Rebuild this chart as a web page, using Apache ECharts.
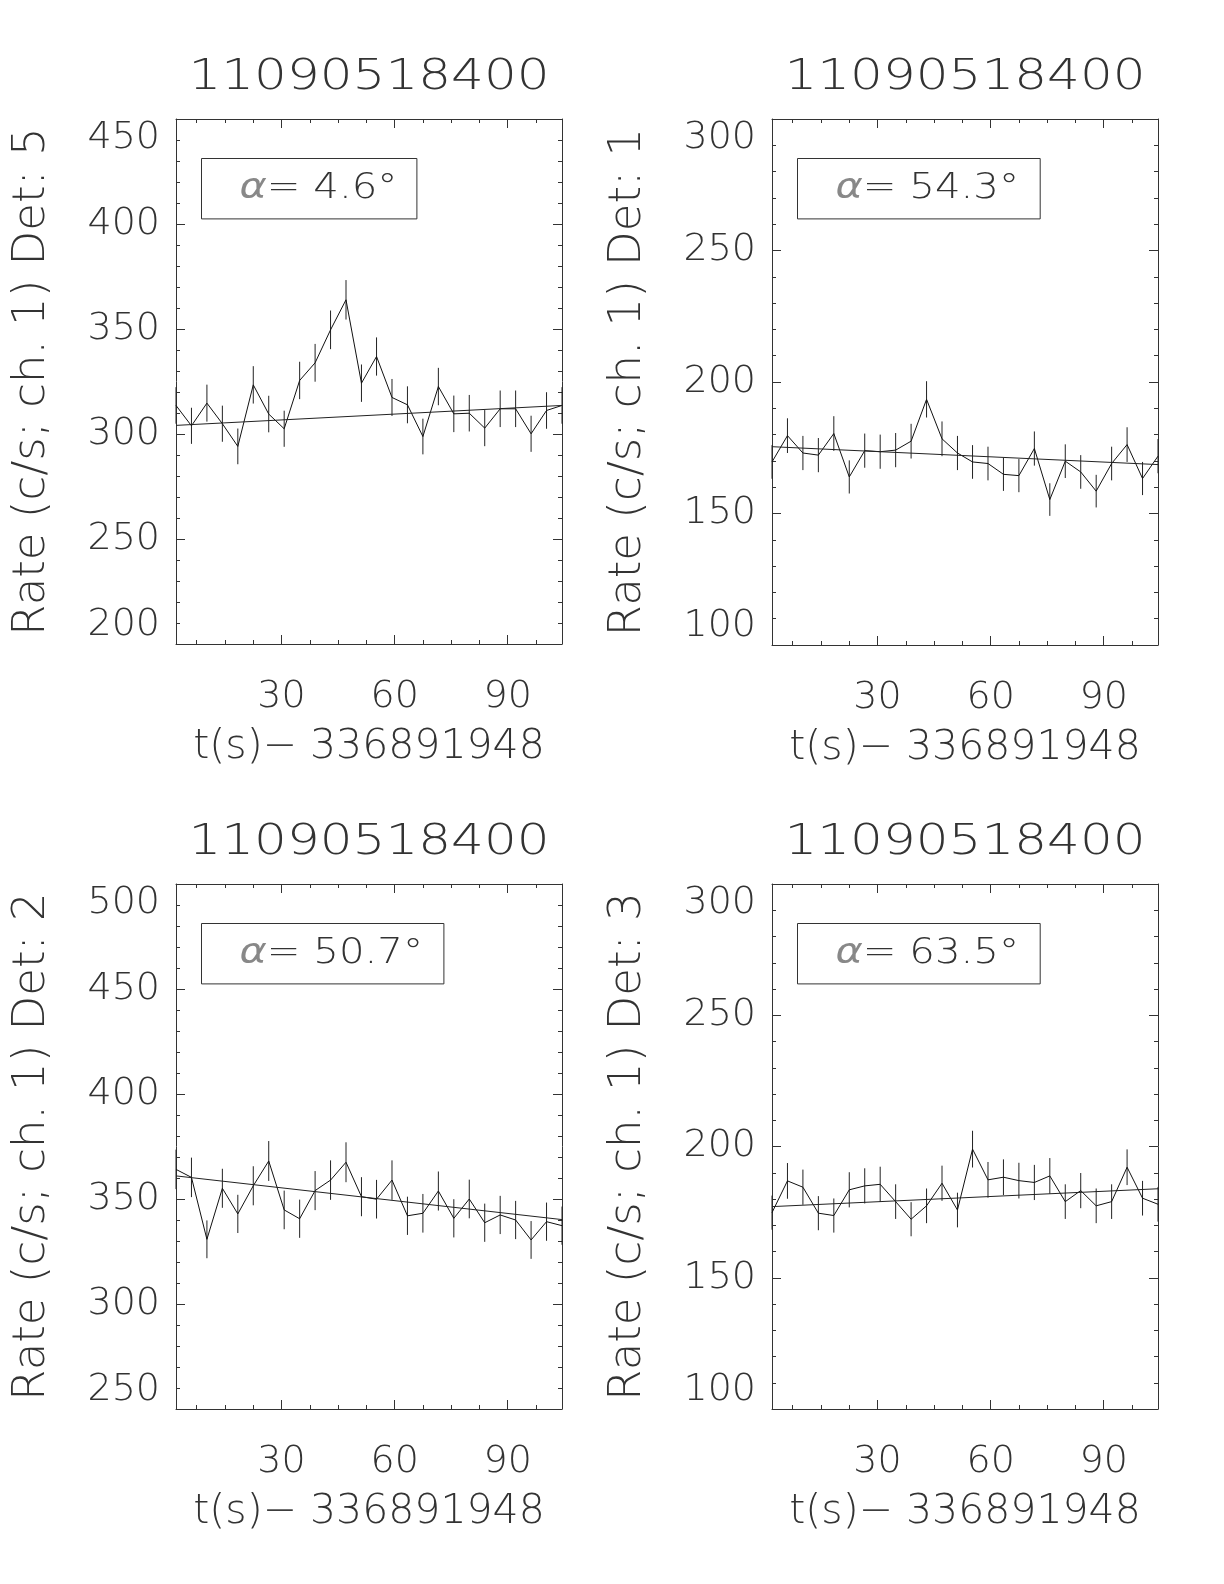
<!DOCTYPE html>
<html>
<head>
<meta charset="utf-8">
<script src="https://cdn.jsdelivr.net/npm/echarts@6/dist/echarts.min.js"></script>
<style>
html,body{margin:0;padding:0;background:#fff;}
#chart{width:1224px;height:1584px;}
</style>
</head>
<body>
<div id="chart"></div>
<script>
// ---------------- data ----------------
const times = [2.0, 6.1, 10.2, 14.3, 18.4, 22.5, 26.6, 30.7, 34.8, 38.9, 43.0, 47.1, 51.2,
               55.2, 59.3, 63.4, 67.5, 71.6, 75.7, 79.8, 83.9, 88.0, 92.1, 96.2, 100.3, 104.4];
const xMajorTicks = [30, 60, 90];
const xMinorTicks = [7.5, 15, 22.5, 37.5, 45, 52.5, 67.5, 75, 82.5, 97.5];

const titleText = '11090518400';
const xAxisTitle = 't(s)\u2212 336891948';

// Det 5
const rateDet5 = [313.6, 303.9, 314.7, 304.9, 294.1, 323.4, 309.5, 302.5, 325.5, 333.9, 349.6, 363.9, 324.2,
                  336.9, 317.4, 313.9, 298.8, 322.6, 309.6, 309.9, 302.8, 312.0, 312.0, 300.1, 311.2, 313.6];
const errDet5  = [8.7, 8.6, 8.8, 8.6, 8.5, 8.9, 8.7, 8.6, 8.9, 9.0, 9.2, 9.4, 8.9,
                  9.1, 8.8, 8.8, 8.5, 8.9, 8.7, 8.7, 8.6, 8.7, 8.7, 8.6, 8.7, 8.7];
const fitDet5  = [304.1, 313.6];

// Det 1
const rateDet1 = [169.6, 179.6, 173.0, 172.2, 180.4, 163.9, 173.9, 173.5, 174.1, 177.5, 193.4, 178.4, 173.0,
                  169.6, 169.0, 164.9, 164.4, 174.7, 155.3, 169.9, 165.8, 158.5, 169.0, 176.2, 163.3, 171.8];
const errDet1  = [6.4, 6.6, 6.5, 6.5, 6.6, 6.3, 6.5, 6.5, 6.5, 6.6, 6.9, 6.6, 6.5,
                  6.4, 6.4, 6.3, 6.3, 6.5, 6.2, 6.4, 6.4, 6.2, 6.4, 6.6, 6.3, 6.5];
const fitDet1  = [175.4, 168.6];

// Det 2
const rateDet2 = [364.1, 360.3, 330.8, 355.1, 342.9, 356.3, 368.1, 344.8, 340.6, 354.0, 359.0, 367.5, 351.1,
                  349.9, 359.0, 342.0, 343.2, 353.8, 340.8, 350.0, 338.7, 342.4, 340.0, 330.5, 339.2, 337.3];
const errDet2  = [9.4, 9.4, 9.0, 9.3, 9.1, 9.3, 9.5, 9.2, 9.1, 9.3, 9.4, 9.5, 9.3,
                  9.2, 9.4, 9.1, 9.2, 9.3, 9.1, 9.2, 9.1, 9.1, 9.1, 9.0, 9.1, 9.1];
const fitDet2  = [361.0, 340.2];

// Det 3
const rateDet3 = [174.8, 186.9, 184.5, 174.6, 173.7, 183.5, 185.0, 185.6, 179.0, 172.3, 177.4, 186.0, 175.8,
                  199.0, 187.3, 188.3, 187.0, 186.3, 188.8, 179.0, 183.2, 177.4, 179.0, 192.1, 180.3, 178.0];
const errDet3  = [6.5, 6.8, 6.7, 6.5, 6.5, 6.7, 6.7, 6.7, 6.6, 6.5, 6.6, 6.7, 6.6,
                  7.0, 6.8, 6.8, 6.8, 6.7, 6.8, 6.6, 6.7, 6.6, 6.6, 6.8, 6.6, 6.6];
const fitDet3  = [177.1, 183.9];

const detectors = ['5', '1', '2', '3'];
const alphas = ['4.6', '54.3', '50.7', '63.5'];
const yMins = [200, 100, 250, 100];
const yMaxs = [450, 300, 500, 300];
const yInterval = 50;

// ---------------- layout / style ----------------
const rates = [rateDet5, rateDet1, rateDet2, rateDet3];
const errs = [errDet5, errDet1, errDet2, errDet3];
const fits = [fitDet5, fitDet1, fitDet2, fitDet3];
const gridRects = [[176, 119, 386, 525], [772, 119, 386, 526], [176, 884, 386, 525], [772, 884, 386, 525]];
const boxWidths = [215.4, 242.7, 242.4, 242.7];

const FONT = '"DejaVu Sans", sans-serif';
const FW = 200;
const TXT = '#333';
const AX = '#333';

const grid = [], xAxis = [], yAxis = [], series = [], graphic = [];

for (let i = 0; i < 4; i++) {
  const [gl, gt, gw, gh] = gridRects[i];
  const gA = grid.length;
  grid.push({left: gl, top: gt, width: gw, height: gh, containLabel: false});
  const gB = grid.length;
  grid.push({left: gl, top: gt, width: gw, height: gh, containLabel: false});

  const xMin = times[0], xMax = times[times.length - 1];
  const xBottom = xAxis.length;
  xAxis.push({
    gridIndex: gA, type: 'value', position: 'bottom', min: xMin, max: xMax,
    axisLine: {show: true, lineStyle: {color: AX, width: 1}},
    axisTick: {show: true, inside: true, length: 9, customValues: xMajorTicks, lineStyle: {color: AX}},
    axisLabel: {show: true, customValues: xMajorTicks, margin: 34, fontSize: 38, fontFamily: FONT, fontWeight: FW, color: TXT},
    splitLine: {show: false},
    name: xAxisTitle, nameLocation: 'middle', nameGap: 83,
    nameTextStyle: {fontSize: 41, fontFamily: FONT, fontWeight: FW, color: TXT}
  });
  xAxis.push({
    gridIndex: gA, type: 'value', position: 'top', min: xMin, max: xMax,
    axisLine: {show: true, lineStyle: {color: AX, width: 1}},
    axisTick: {show: true, inside: true, length: 9, customValues: xMajorTicks, lineStyle: {color: AX}},
    axisLabel: {show: false}, splitLine: {show: false}
  });
  xAxis.push({
    gridIndex: gB, type: 'value', position: 'bottom', min: xMin, max: xMax,
    axisLine: {show: false},
    axisTick: {show: true, inside: true, length: 4, customValues: xMinorTicks, lineStyle: {color: AX}},
    axisLabel: {show: false}, splitLine: {show: false}
  });
  xAxis.push({
    gridIndex: gB, type: 'value', position: 'top', min: xMin, max: xMax,
    axisLine: {show: false},
    axisTick: {show: true, inside: true, length: 4, customValues: xMinorTicks, lineStyle: {color: AX}},
    axisLabel: {show: false}, splitLine: {show: false}
  });

  const yLeft = yAxis.length;
  yAxis.push({
    gridIndex: gA, type: 'value', position: 'left', min: yMins[i], max: yMaxs[i], interval: yInterval,
    axisLine: {show: true, lineStyle: {color: AX, width: 1}},
    axisTick: {show: true, inside: true, length: 9, lineStyle: {color: AX}},
    minorTick: {show: true, splitNumber: 5, length: 4, lineStyle: {color: AX}},
    axisLabel: {show: true, margin: 16, fontSize: 38, fontFamily: FONT, fontWeight: FW, color: TXT,
                verticalAlignMaxLabel: 'top', verticalAlignMinLabel: 'bottom'},
    splitLine: {show: false},
    name: 'Rate (c/s; ch. 1) Det: ' + detectors[i], nameLocation: 'middle', nameRotate: 90, nameGap: 121,
    nameTextStyle: {fontSize: 45, fontFamily: FONT, fontWeight: FW, color: TXT}
  });
  yAxis.push({
    gridIndex: gA, type: 'value', position: 'right', min: yMins[i], max: yMaxs[i], interval: yInterval,
    axisLine: {show: true, lineStyle: {color: AX, width: 1}},
    axisTick: {show: true, inside: true, length: 9, lineStyle: {color: AX}},
    minorTick: {show: true, splitNumber: 5, length: 4, lineStyle: {color: AX}},
    axisLabel: {show: false}, splitLine: {show: false}
  });
  yAxis.push({gridIndex: gB, type: 'value', show: false, min: yMins[i], max: yMaxs[i]});

  const r = rates[i], e = errs[i], f = fits[i];
  series.push({
    type: 'custom', xAxisIndex: xBottom, yAxisIndex: yLeft, silent: true, animation: false,
    data: times.map((t, k) => [t, r[k], e[k]]),
    encode: {x: 0, y: 1},
    renderItem: function (params, api) {
      const x = api.value(0), y = api.value(1), er = api.value(2);
      const p1 = api.coord([x, y - er]);
      const p2 = api.coord([x, y + er]);
      return {type: 'line', shape: {x1: p1[0], y1: p1[1], x2: p2[0], y2: p2[1]},
              style: {stroke: '#222', lineWidth: 1}};
    },
    z: 2
  });
  series.push({
    type: 'line', xAxisIndex: xBottom, yAxisIndex: yLeft, silent: true, animation: false,
    data: times.map((t, k) => [t, r[k]]), symbol: 'none',
    lineStyle: {color: '#111', width: 1}, z: 3
  });
  series.push({
    type: 'line', xAxisIndex: xBottom, yAxisIndex: yLeft, silent: true, animation: false,
    data: [[xMin, f[0]], [xMax, f[1]]], symbol: 'none',
    lineStyle: {color: '#222', width: 1}, z: 3
  });

  // title
  graphic.push({
    type: 'text', x: gl + gw / 2, y: gt - 41, scaleX: 1.2, silent: true,
    style: {text: titleText, fontSize: 43, fontFamily: FONT, fontWeight: FW, fill: TXT,
            align: 'center', verticalAlign: 'middle'}
  });
  // alpha box
  const bx = gl + 25.5, by = gt + 39.5;
  graphic.push({
    type: 'rect', silent: true,
    shape: {x: bx, y: by, width: boxWidths[i], height: 60.4},
    style: {fill: 'none', stroke: AX, lineWidth: 1}
  });
  graphic.push({
    type: 'text', x: bx + 38, y: by + 30.5, scaleX: 1.15, silent: true,
    style: {text: '{a|\u03b1}= ' + alphas[i] + '\u00b0', fontSize: 35, fontFamily: FONT, fontWeight: FW,
            fill: TXT, align: 'left', verticalAlign: 'middle',
            rich: {a: {fontSize: 36, fontFamily: '"DejaVu Sans", sans-serif', fontWeight: 'normal', fontStyle: 'italic', fill: '#888'}}}
  });
}

const chart = echarts.init(document.getElementById('chart'), null, {renderer: 'canvas'});
chart.setOption({
  backgroundColor: '#fff',
  animation: false,
  grid: grid, xAxis: xAxis, yAxis: yAxis, series: series, graphic: graphic
});
</script>
</body>
</html>
